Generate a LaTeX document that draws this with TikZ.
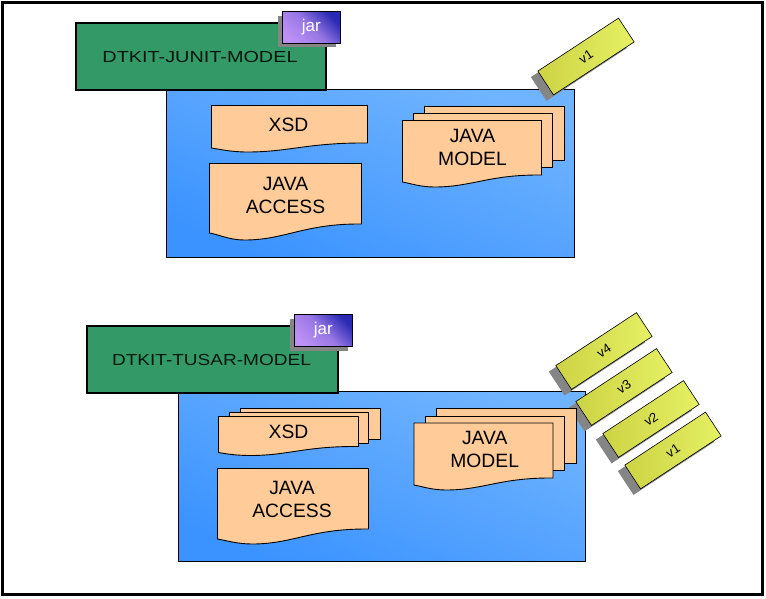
\documentclass[tikz,border=0pt]{standalone}
\usepackage{fontspec}
\setmainfont{Liberation Sans}
\newfontfamily\widefonta[FakeStretch=1.24]{Liberation Sans}
\newfontfamily\widefontb[FakeStretch=1.19]{Liberation Sans}
\definecolor{bluedark}{HTML}{3B93FF}
\definecolor{bluelite}{HTML}{70B4FF}
\definecolor{peach}{HTML}{FFCC99}
\definecolor{greenbox}{HTML}{339966}
\definecolor{greyshade}{HTML}{858585}
\definecolor{tagdark}{HTML}{CCD444}
\definecolor{taglite}{HTML}{E6F064}
\definecolor{jarlite}{HTML}{BC90F4}
\definecolor{jardark}{HTML}{2A2AB4}
\tikzset{
  x=1pt,y=-1pt,
  frame/.style={draw=black,line width=3pt,fill=white},
  bluepanel/.style={draw=black,line width=.9pt,top color=bluelite,bottom color=bluedark,shading angle=-22},
  modelbox/.style={draw=black,line width=2pt,fill=greenbox,inner sep=0pt,outer sep=0pt,anchor=north west},
  modeltext/.style={text=black!85!greenbox},
  jarbox/.style={draw=black,line width=.8pt,top color=jardark,bottom color=jarlite,middle color=jarlite!75!jardark,shading angle=-45,inner sep=0pt,outer sep=0pt,anchor=north west,minimum width=58pt,minimum height=31.5pt,text=white,font=\fontsize{17}{19}\selectfont},
  jarshadow/.style={fill=greyshade,inner sep=0pt,outer sep=0pt,anchor=north west,minimum width=58pt,minimum height=31.5pt},
  docshape/.style={draw=black,line width=.9pt,fill=peach,line join=miter},
  doctext/.style={font=\fontsize{19.3}{23}\selectfont,align=center,text=black},
  versiontag/.style={draw=black,line width=.6pt,left color=tagdark,right color=taglite,minimum width=96.5pt,minimum height=28.5pt,inner sep=0pt,rotate=33.3,font=\fontsize{13}{15}\selectfont,text=black},
  tagshadow/.style={fill=greyshade,minimum width=96.5pt,minimum height=28.5pt,inner sep=0pt,rotate=33.3},
}
% x1 x2 top rightbottom leftbottom lowest
\newcommand{\wavedoc}[6]{%
  \pgfmathsetmacro{\docw}{#2-#1}%
  \draw[docshape] (#1,#3) -- (#2,#3) -- (#2,#4)
    .. controls ({#1+.62*\docw},{#4-.5}) and ({#1+.5*\docw},#6) .. ({#1+.23*\docw},#6)
    .. controls ({#1+.13*\docw},#6) and ({#1+.06*\docw},{#5+1.5}) .. (#1,#5) -- cycle;}
\begin{document}
\begin{tikzpicture}
\useasboundingbox (0,0) rectangle (766,598);
\draw[frame] (2,2) rectangle (762,594.5);

% --- upper group ---
\draw[bluepanel] (166.5,89) rectangle (574.5,257.5);
\node[modelbox,minimum width=250pt,minimum height=67.5pt] (junit) at (76,22.5) {};
\node[modeltext,font=\widefonta\fontsize{16}{18}\selectfont] (junitlabel) at (200,56.5) {DTKIT-JUNIT-MODEL};
\node[jarshadow] (jarshadowa) at (278.3,15.5) {};
\node[jarbox] (jara) at (282.3,11.8) {jar};
\node[tagshadow] (tagshadowa) at (579,62.5) {};
\node[versiontag] (taga) at (586,56.5) {v1};

\wavedoc{211.5}{367.5}{105.5}{143}{148}{152}
\node[doctext] (xsda) at (288.5,125) {XSD};
\wavedoc{209.5}{361.5}{163.5}{224}{233}{240}
\node[doctext] (accessa) at (285.5,195) {JAVA\\ACCESS};
\draw[docshape] (424.5,106.5) rectangle (564.5,160);
\draw[docshape] (413,113.5) rectangle (552.5,167);
\wavedoc{402.5}{541.5}{120.5}{175}{182}{187}
\node[doctext] (modela) at (472.5,147) {JAVA\\MODEL};

% --- lower group ---
\draw[bluepanel] (178.5,391.5) rectangle (585.5,561);
\node[modelbox,minimum width=251pt,minimum height=67.5pt] (tusar) at (87,325.5) {};
\node[modeltext,font=\widefontb\fontsize{16}{18}\selectfont] (tusarlabel) at (211.5,359.5) {DTKIT-TUSAR-MODEL};
\node[jarshadow] (jarshadowb) at (290,319) {};
\node[jarbox] (jarb) at (294.3,314.5) {jar};

\node[tagshadow] (tagshadowd) at (597,357) {};
\node[versiontag] (tagd) at (604,351) {v4};
\node[tagshadow] (tagshadowc) at (617,393) {};
\node[versiontag] (tagc) at (624,387) {v3};
\node[tagshadow] (tagshadowb) at (644,425) {};
\node[versiontag] (tagb) at (651,419) {v2};
\node[tagshadow] (tagshadowf) at (666,456.5) {};
\node[versiontag] (tagf) at (673,450.5) {v1};

\draw[docshape] (240.5,408.5) rectangle (380.5,439.5);
\draw[docshape] (229.5,412.5) rectangle (368.5,443.5);
\wavedoc{218.5}{358.5}{416.5}{446.5}{452.5}{455.5}
\node[doctext] (xsdb) at (288.5,432) {XSD};
\wavedoc{217.5}{368.5}{468.5}{529}{539}{544}
\node[doctext] (accessb) at (292,499.5) {JAVA\\ACCESS};
\draw[docshape] (436.5,408.5) rectangle (576.5,463);
\draw[docshape] (425,416) rectangle (564.5,470);
\wavedoc{414}{553}{423}{478}{485}{490}
\node[doctext] (modelb) at (484.7,449.5) {JAVA\\MODEL};
\end{tikzpicture}
\end{document}
